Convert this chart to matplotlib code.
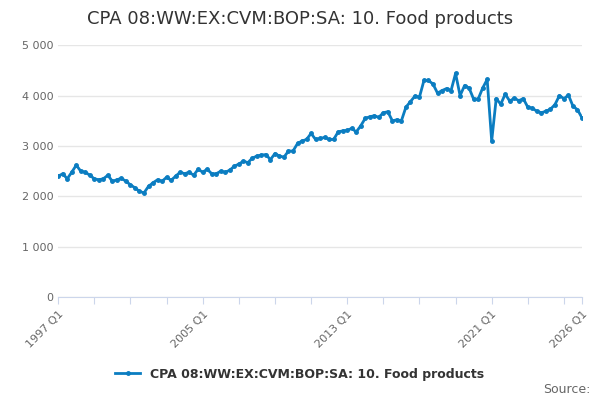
import numpy as np
import matplotlib.pyplot as plt

title = "CPA 08:WW:EX:CVM:BOP:SA: 10. Food products"
values = [
    2400, 2450, 2350, 2480,
    2620, 2500, 2480, 2420,
    2350, 2330, 2350, 2420,
    2300, 2330, 2360, 2300,
    2230, 2170, 2100, 2070,
    2200, 2270, 2330, 2300,
    2380, 2320, 2400, 2480,
    2450, 2480, 2420, 2540,
    2480, 2540, 2450, 2450,
    2500, 2480, 2520, 2600,
    2640, 2700, 2670, 2760,
    2800, 2820, 2830, 2730,
    2850, 2800, 2780, 2900,
    2900, 3050, 3100, 3130,
    3250, 3130, 3150, 3170,
    3130, 3130, 3280, 3300,
    3310, 3350, 3280, 3400,
    3550, 3580, 3600, 3570,
    3660, 3680, 3500, 3520,
    3500, 3770, 3880, 3990,
    3970, 4300, 4300, 4230,
    4050, 4100, 4140, 4100,
    4440, 4000, 4200, 4150,
    3930, 3930, 4150, 4320,
    3100, 3940, 3830, 4030,
    3890, 3950, 3900, 3940,
    3770, 3750, 3690, 3660,
    3690, 3730, 3820, 4000,
    3940, 4010, 3790, 3720,
    3560,
]
labels = {0: "1997 Q1", 32: "2005 Q1", 64: "2013 Q1", 96: "2021 Q1", 116: "2026 Q1"}

color = "#0b7dc1"
x = np.arange(len(values))

fig = plt.figure(figsize=(6, 4), dpi=100)
ax = fig.add_axes([0.097, 0.257, 0.873, 0.63])
ax.plot(x, values, color=color, lw=2, marker="o", ms=2.5, label=title)
ax.set_xlim(0, len(values) - 1)
ax.set_ylim(0, 5000)
ax.set_yticks(range(0, 5001, 1000))
ax.set_yticklabels([f"{v:,}".replace(",", " ") for v in range(0, 5001, 1000)])
ax.grid(axis="y", color="#e6e6e6", lw=1)
ax.set_axisbelow(True)

ticks = list(range(0, len(values), 8)) + [116]
ax.set_xticks(ticks)
ax.set_xticklabels([labels.get(t, "") for t in ticks], rotation=45, ha="right",
                   rotation_mode="anchor")
ax.tick_params(axis="x", length=5, color="#ccd6eb", labelsize=8, colors="#666666")
ax.tick_params(axis="y", length=0, labelsize=8, colors="#666666")
for s in ["top", "right", "left"]:
    ax.spines[s].set_visible(False)
ax.spines["bottom"].set_color("#ccd6eb")

fig.suptitle(title, y=0.975, fontsize=13, color="#333333")
fig.legend(loc="lower center", bbox_to_anchor=(0.5, 0.02), frameon=False,
           prop={"size": 9, "weight": "bold"}, labelcolor="#333333")
fig.text(0.985, 0.01, "Source:", ha="right", va="bottom", fontsize=9, color="#666666")

fig.savefig("out.png")
